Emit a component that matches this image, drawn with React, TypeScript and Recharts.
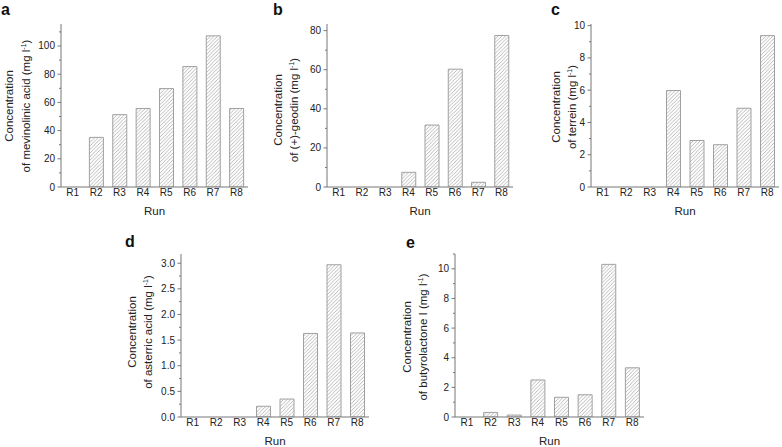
import { BarChart, Bar, XAxis, YAxis } from "recharts";

// runs on the x axis
const runs = ["R1", "R2", "R3", "R4", "R5", "R6", "R7", "R8"];

// concentrations (mg l-1)
const mevinolinic = [0, 35.2, 51.3, 55.7, 69.8, 85.4, 107.2, 55.7];
const geodin = [0, 0, 0, 7.5, 31.7, 60.3, 2.4, 77.5];
const terrein = [0, 0, 0, 5.98, 2.88, 2.62, 4.88, 9.38];
const asterric = [0, 0, 0, 0.21, 0.35, 1.63, 2.97, 1.64];
const butyrolactone = [0, 0.31, 0.13, 2.5, 1.33, 1.5, 10.3, 3.32];

// y ticks (major + minor) and which ones get a label
const ticksA = [0, 10, 20, 30, 40, 50, 60, 70, 80, 90, 100, 110];
const majorA = [0, 20, 40, 60, 80, 100];
const ticksB = [0, 10, 20, 30, 40, 50, 60, 70, 80];
const majorB = [0, 20, 40, 60, 80];
const ticksC = [0, 1, 2, 3, 4, 5, 6, 7, 8, 9, 10];
const majorC = [0, 2, 4, 6, 8, 10];
const ticksD = [0, 0.25, 0.5, 0.75, 1, 1.25, 1.5, 1.75, 2, 2.25, 2.5, 2.75, 3];
const majorD = [0, 0.5, 1, 1.5, 2, 2.5, 3];
const ticksE = [0, 1, 2, 3, 4, 5, 6, 7, 8, 9, 10, 11];
const majorE = [0, 2, 4, 6, 8, 10];

const FONT = "'Liberation Sans', Arial, sans-serif";
const TEXT = "#222";
const AXIS = "#777";

const panels = [
  {
    id: "a", values: mevinolinic, max: 115.6, ticks: ticksA, major: majorA, dec: 0,
    compound: "mevinolinic acid",
    left: 61, right: 248, top: 24, bottom: 187,
    lab1: 9, lab2: 26, labY: 106, letterX: 1, letterY: 15,
  },
  {
    id: "b", values: geodin, max: 83.4, ticks: ticksB, major: majorB, dec: 0,
    compound: "(+)-geodin",
    left: 327, right: 513, top: 24, bottom: 187,
    lab1: 278, lab2: 294, labY: 110, letterX: 273, letterY: 15,
  },
  {
    id: "c", values: terrein, max: 10.1, ticks: ticksC, major: majorC, dec: 0,
    compound: "terrein",
    left: 591, right: 779, top: 24, bottom: 187,
    lab1: 556, lab2: 572, labY: 107, letterX: 551, letterY: 15,
  },
  {
    id: "d", values: asterric, max: 3.18, ticks: ticksD, major: majorD, dec: 1,
    compound: "asterric acid",
    left: 181, right: 369, top: 254, bottom: 417,
    lab1: 132, lab2: 148, labY: 332, letterX: 125, letterY: 247,
  },
  {
    id: "e", values: butyrolactone, max: 11, ticks: ticksE, major: majorE, dec: 0,
    compound: "butyrolactone I",
    left: 455, right: 644, top: 254, bottom: 417,
    lab1: 407, lab2: 423, labY: 337, letterX: 406, letterY: 248,
  },
];

const YW = 70;
const XH = 40;

function YTick(props: any) {
  const { x, y, payload, major, dec } = props;
  const isMajor = major.includes(payload.value);
  return (
    <g>
      <line x1={x} x2={x - (isMajor ? 3.5 : 2)} y1={y} y2={y} stroke={AXIS} strokeWidth={1} />
      {isMajor && (
        <text x={x - 6} y={y} dy="0.35em" textAnchor="end" fontSize={10} fill={TEXT} fontFamily={FONT}>
          {Number(payload.value).toFixed(dec)}
        </text>
      )}
    </g>
  );
}

function Panel({ p }: { p: (typeof panels)[number] }) {
  const data = runs.map((r, i) => ({ run: r, value: p.values[i] }));
  const boxLeft = p.left - YW;
  const boxTop = p.top - 6;
  const width = p.right - boxLeft + 4;
  const height = p.bottom - boxTop + XH;
  return (
    <div style={{ position: "absolute", left: boxLeft, top: boxTop }}>
      <BarChart
        width={width}
        height={height}
        data={data}
        margin={{ top: 6, right: 4, bottom: 0, left: 0 }}
      >
        <defs>
          <pattern id={`hatch-${p.id}`} patternUnits="userSpaceOnUse" width={3.6} height={3.6}>
            <path d="M0,3.6 L3.6,0 M-0.9,0.9 L0.9,-0.9 M2.7,4.5 L4.5,2.7" stroke="#9a9a9a" strokeWidth={0.7} />
          </pattern>
        </defs>
        <XAxis
          dataKey="run"
          height={XH}
          tickLine={false}
          tickSize={0}
          axisLine={{ stroke: AXIS }}
          tick={{ fontSize: 10, fill: TEXT, fontFamily: FONT }}
          tickMargin={2}
          interval={0}
        />
        <YAxis
          width={YW}
          type="number"
          domain={[0, p.max]}
          ticks={p.ticks}
          interval={0}
          allowDataOverflow
          tickLine={false}
          tickSize={0}
          tickMargin={0}
          axisLine={{ stroke: AXIS }}
          tick={(tp: any) => <YTick {...tp} major={p.major} dec={p.dec} />}
        />
        <Bar
          dataKey="value"
          barSize={14}
          fill={`url(#hatch-${p.id})`}
          stroke="#a0a0a0"
          strokeWidth={1}
          isAnimationActive={false}
        />
      </BarChart>
    </div>
  );
}

export default function App() {
  return (
    <div style={{ position: "absolute", left: 0, top: 0, width: 782, height: 447, background: "#fff", overflow: "hidden" }}>
      {panels.map((p) => (
        <Panel key={p.id} p={p} />
      ))}
      <svg width={782} height={447} style={{ position: "absolute", left: 0, top: 0, pointerEvents: "none" }}>
        {panels.map((p) => (
          <g key={p.id} fontFamily={FONT} fill={TEXT}>
            <text x={p.letterX} y={p.letterY} fontSize={16} fontWeight="bold" fill="#111">
              {p.id}
            </text>
            <text
              x={(p.left + p.right) / 2}
              y={p.bottom + 28}
              textAnchor="middle"
              fontSize={11.5}
            >
              Run
            </text>
            <text
              x={p.lab1}
              y={p.labY}
              dy="0.35em"
              textAnchor="middle"
              fontSize={11.5}
              transform={`rotate(-90 ${p.lab1} ${p.labY})`}
            >
              Concentration
            </text>
            <text
              x={p.lab2}
              y={p.labY}
              dy="0.35em"
              textAnchor="middle"
              fontSize={11.5}
              transform={`rotate(-90 ${p.lab2} ${p.labY})`}
            >
              {`of ${p.compound} (mg l`}
              <tspan fontSize={7} dy="-4">-1</tspan>
              <tspan dy="4">)</tspan>
            </text>
          </g>
        ))}
      </svg>
    </div>
  );
}
